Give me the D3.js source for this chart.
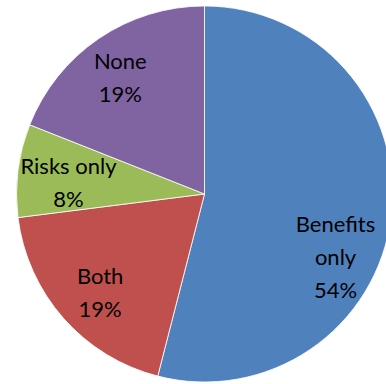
<!DOCTYPE html>
<html>
<head>
<meta charset="utf-8">
<script src="https://cdn.jsdelivr.net/npm/d3@7"></script>
<style>
  html, body { margin: 0; padding: 0; background: #fff; }
  svg { display: block; }
</style>
</head>
<body>
<script>
const categories = ['Benefits only', 'Both', 'Risks only', 'None'];
const shares = [54, 19, 8, 19];
const labelLines = [['Benefits', 'only', '54%'], ['Both', '19%'], ['Risks only', '8%'], ['None', '19%']];
const colors = ['#4f81bd', '#c0504d', '#9bbb59', '#8064a2'];

const width = 386, height = 384;
const cx = 204.5, cy = 194, radius = 188;

const svg = d3.select('body').append('svg')
    .attr('width', width)
    .attr('height', height);

const data = categories.map((c, i) => ({ name: c, value: shares[i], lines: labelLines[i], color: colors[i] }));

const pie = d3.pie()
    .sort(null)
    .value(d => d.value);

const arc = d3.arc()
    .innerRadius(0)
    .outerRadius(radius);

const labelArc = d3.arc()
    .innerRadius(radius * 0.74)
    .outerRadius(radius * 0.74);

const arcs = pie(data);

const g = svg.append('g')
    .attr('transform', `translate(${cx},${cy})`);

g.append('g')
    .attr('stroke', '#fff')
    .attr('stroke-width', 0.8)
  .selectAll('path')
  .data(arcs)
  .join('path')
    .attr('fill', d => d.data.color)
    .attr('d', arc);

// small nudges so labels sit where the original placed them
const nudge = { 'Benefits only': [-7, 47], 'Both': [0, 7], 'Risks only': [2, 7], 'None': [-6, 0] };
const lineGap = 33;

g.append('g')
    .attr('text-anchor', 'middle')
    .attr('font-family', 'Lato, "Open Sans", sans-serif')
    .attr('font-size', '22px')
    .attr('fill', '#000')
  .selectAll('text')
  .data(arcs)
  .join('text')
    .attr('transform', d => {
        const [x, y] = labelArc.centroid(d);
        const [nx, ny] = nudge[d.data.name];
        return `translate(${x + nx},${y + ny})`;
    })
    .each(function (d) {
        const lines = d.data.lines;
        const top = -((lines.length - 1) * lineGap) / 2 + 7;
        d3.select(this).selectAll('tspan')
            .data(lines)
            .join('tspan')
            .attr('x', 0)
            .attr('y', (t, i) => top + i * lineGap)
            .text(t => t);
    });
</script>
</body>
</html>
